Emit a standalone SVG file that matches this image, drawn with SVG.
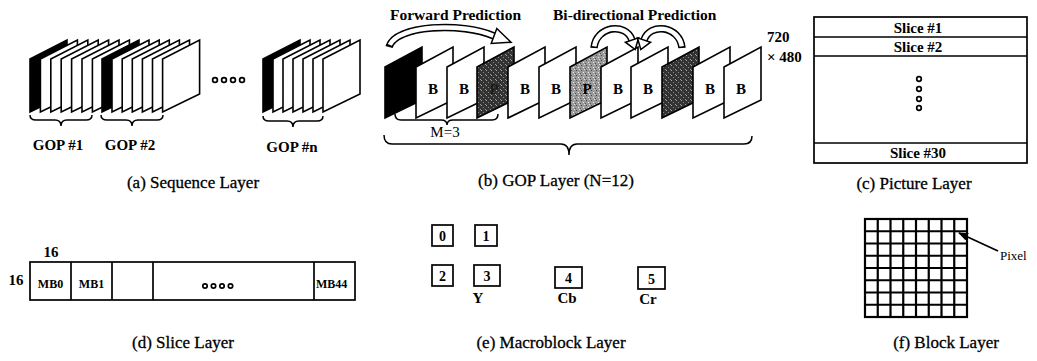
<svg xmlns="http://www.w3.org/2000/svg" width="1037" height="361" viewBox="0 0 1037 361">
<style>
.fr{fill:#fff;stroke:#000;stroke-width:1.6;stroke-linejoin:miter}
.frk{fill:#000;stroke:#000;stroke-width:1.6}
.ln{fill:none;stroke:#000;stroke-width:1.7}
.br{fill:none;stroke:#000;stroke-width:1.5}
.t{font-family:"Liberation Serif",serif;fill:#000}
.b{font-weight:bold}
.cap{font-family:"Liberation Serif",serif;font-size:17px;fill:#000;stroke:#000;stroke-width:0.3}
.dot{fill:#fff;stroke:#000;stroke-width:1.7}
.arO{fill:none;stroke:#000;stroke-width:7.5;stroke-linecap:butt}
.arI{fill:none;stroke:#fff;stroke-width:4.5;stroke-linecap:butt}
.ah{fill:#fff;stroke:#000;stroke-width:1.5;stroke-linejoin:miter}
</style>
<defs>
<pattern id="stD" width="5" height="5" patternUnits="userSpaceOnUse">
<rect width="5" height="5" fill="#333"/>
<rect x="1" y="0" width="1" height="1" fill="#aaa"/>
<rect x="3" y="2" width="1" height="1" fill="#888"/>
<rect x="0" y="4" width="1" height="1" fill="#999"/>
</pattern>
<pattern id="stL" width="5" height="5" patternUnits="userSpaceOnUse">
<rect width="5" height="5" fill="#9a9a9a"/>
<rect x="1" y="0" width="1" height="1" fill="#444"/>
<rect x="3" y="2" width="1" height="1" fill="#eee"/>
<rect x="0" y="3" width="1" height="1" fill="#555"/>
<rect x="4" y="4" width="1" height="1" fill="#ddd"/>
</pattern>
<marker id="ptr" markerWidth="10" markerHeight="8" refX="9" refY="4" orient="auto" markerUnits="userSpaceOnUse">
<path d="M0,0 L10,4 L0,8 Z" fill="#000"/>
</marker>
</defs>

<g id="sequence-layer">
<g id="gop1">
<path class="frk" d="M30,59 L67,40 L67,94 L30,112 Z"/>
<path class="fr" d="M40.4,59 L77.4,40 L77.4,94 L40.4,112 Z"/>
<path class="fr" d="M50.8,59 L87.8,40 L87.8,94 L50.8,112 Z"/>
<path class="fr" d="M61.2,59 L98.2,40 L98.2,94 L61.2,112 Z"/>
<path class="fr" d="M71.6,59 L108.6,40 L108.6,94 L71.6,112 Z"/>
<path class="fr" d="M82,59 L119,40 L119,94 L82,112 Z"/>
<path class="fr" d="M92.4,59 L129.4,40 L129.4,94 L92.4,112 Z"/>
</g>
<g id="gop2">
<path class="frk" d="M102,59 L139,40 L139,94 L102,112 Z"/>
<path class="fr" d="M112,59 L149,40 L149,94 L112,112 Z"/>
<path class="fr" d="M122.2,59 L159.2,40 L159.2,94 L122.2,112 Z"/>
<path class="fr" d="M132.3,59 L169.3,40 L169.3,94 L132.3,112 Z"/>
<path class="fr" d="M142.4,59 L179.4,40 L179.4,94 L142.4,112 Z"/>
<path class="fr" d="M152.5,59 L189.5,40 L189.5,94 L152.5,112 Z"/>
<path class="fr" d="M162.6,59 L199.6,40 L199.6,94 L162.6,112 Z"/>
</g>
<g id="seq-dots">
<circle class="dot" cx="215" cy="80" r="2.4"/>
<circle class="dot" cx="224" cy="80" r="2.4"/>
<circle class="dot" cx="233" cy="80" r="2.4"/>
<circle class="dot" cx="242" cy="80" r="2.4"/>
</g>
<g id="gopn">
<path class="frk" d="M263,59 L300,40 L300,94 L263,112 Z"/>
<path class="fr" d="M273,59 L310,40 L310,94 L273,112 Z"/>
<path class="fr" d="M283,59 L320,40 L320,94 L283,112 Z"/>
<path class="fr" d="M293,59 L330,40 L330,94 L293,112 Z"/>
<path class="fr" d="M303,59 L340,40 L340,94 L303,112 Z"/>
<path class="fr" d="M313,59 L350,40 L350,94 L313,112 Z"/>
<path class="fr" d="M323,59 L360,40 L360,94 L323,112 Z"/>
</g>
<path class="br" d="M30,115 Q30,120 36,120 L55,120 Q61,120 61,126 Q61,120 67,120 L86,120 Q92,120 92,115"/>
<path class="br" d="M101,115 Q101,120 107,120 L126,120 Q132,120 132,126 Q132,120 138,120 L157,120 Q163,120 163,115"/>
<path class="br" d="M263,116 Q263,121 269,121 L287,121 Q293,121 293,127 Q293,121 299,121 L317,121 Q323,121 323,116"/>
<text class="t b" x="58" y="150" font-size="15" text-anchor="middle">GOP #1</text>
<text class="t b" x="130" y="150" font-size="15" text-anchor="middle">GOP #2</text>
<text class="t b" x="292" y="152" font-size="15" text-anchor="middle">GOP #n</text>
<text class="cap" x="193" y="188" text-anchor="middle">(a) Sequence Layer</text>
</g>

<g id="gop-layer">
<path class="frk" d="M385,67 L422,47 L422,100 L385,118 Z"/>
<path class="fr" d="M416,67 L453,47 L453,100 L416,118 Z"/>
<text class="t b" x="433" y="94" font-size="15" text-anchor="middle">B</text>
<path class="fr" d="M447,67 L484,47 L484,100 L447,118 Z"/>
<text class="t b" x="464" y="94" font-size="15" text-anchor="middle">B</text>
<path class="fr" d="M477,67 L514,47 L514,100 L477,118 Z" style="fill:url(#stD)"/>
<text class="t b" x="494" y="94" font-size="15" text-anchor="middle" style="fill:#1a1a1a">P</text>
<path class="fr" d="M508,67 L545,47 L545,100 L508,118 Z"/>
<text class="t b" x="525" y="94" font-size="15" text-anchor="middle">B</text>
<path class="fr" d="M539,67 L576,47 L576,100 L539,118 Z"/>
<text class="t b" x="556" y="94" font-size="15" text-anchor="middle">B</text>
<path class="fr" d="M570,67 L607,47 L607,100 L570,118 Z" style="fill:url(#stL)"/>
<text class="t b" x="587" y="94" font-size="15" text-anchor="middle">P</text>
<path class="fr" d="M601,67 L638,47 L638,100 L601,118 Z"/>
<text class="t b" x="618" y="94" font-size="15" text-anchor="middle">B</text>
<path class="fr" d="M631,67 L668,47 L668,100 L631,118 Z"/>
<text class="t b" x="648" y="94" font-size="15" text-anchor="middle">B</text>
<path class="fr" d="M662,67 L699,47 L699,100 L662,118 Z" style="fill:url(#stD)"/>
<path class="fr" d="M693,67 L730,47 L730,100 L693,118 Z"/>
<text class="t b" x="710" y="94" font-size="15" text-anchor="middle">B</text>
<path class="fr" d="M724,67 L761,47 L761,100 L724,118 Z"/>
<text class="t b" x="741" y="94" font-size="15" text-anchor="middle">B</text>
<path class="br" d="M395,114 Q395,120 401,120 L441,120 Q447,120 447,125 Q447,120 453,120 L492,120 Q498,120 498,114"/>
<text class="t" x="445" y="137" font-size="15" text-anchor="middle">M=3</text>
<path class="br" d="M384,135 Q384,144 392,144 L561,144 Q569,144 569,155 Q569,144 577,144 L744,144 Q752,144 752,136"/>
<text class="t b" x="390" y="20" font-size="15.5">Forward Prediction</text>
<text class="t b" x="553" y="20" font-size="15.5">Bi-directional Prediction</text>
<text class="t b" x="767" y="42" font-size="15">720</text>
<text class="t b" x="767" y="62" font-size="15">× 480</text>
<text class="cap" x="556" y="186" text-anchor="middle">(b) GOP Layer (N=12)</text>
</g>

<g id="prediction-arrows">
<path class="arO" d="M389,47 C395,25 462,22 494,36"/>
<path class="arI" d="M389,47 C395,25 462,22 494,36" pathLength="100" stroke-dasharray="0 2 98"/>
<path class="ah" d="M496.8,28.5 L511,42.3 L491.2,43.5 Z"/>
<path class="arO" d="M594,48 C596,26 626,22 632,40"/>
<path class="arI" d="M594,48 C596,26 626,22 632,40" pathLength="100" stroke-dasharray="0 3 97"/>
<path class="ah" d="M638.6,37.8 L635.2,49.5 L625.4,42.2 Z"/>
<path class="arO" d="M682,48 C680,26 650,22 644,40"/>
<path class="arI" d="M682,48 C680,26 650,22 644,40" pathLength="100" stroke-dasharray="0 3 97"/>
<path class="ah" d="M637.4,37.8 L640.8,49.5 L650.6,42.2 Z"/>
</g>

<g id="picture-layer">
<rect class="ln" x="814" y="17" width="213" height="146"/>
<line class="ln" x1="814" y1="37" x2="1027" y2="37"/>
<line class="ln" x1="814" y1="56" x2="1027" y2="56"/>
<line class="ln" x1="814" y1="143" x2="1027" y2="143"/>
<text class="t b" x="918" y="33" font-size="15" text-anchor="middle">Slice #1</text>
<text class="t b" x="918" y="52" font-size="15" text-anchor="middle">Slice #2</text>
<text class="t b" x="918" y="158" font-size="15" text-anchor="middle">Slice #30</text>
<circle class="dot" cx="919" cy="79" r="2.3"/>
<circle class="dot" cx="919" cy="89" r="2.3"/>
<circle class="dot" cx="919" cy="99" r="2.3"/>
<circle class="dot" cx="919" cy="108" r="2.3"/>
<text class="cap" x="914" y="189" text-anchor="middle">(c) Picture Layer</text>
</g>

<g id="slice-layer">
<rect class="ln" x="30" y="262" width="325" height="38"/>
<line class="ln" x1="71" y1="262" x2="71" y2="300"/>
<line class="ln" x1="112" y1="262" x2="112" y2="300"/>
<line class="ln" x1="153" y1="262" x2="153" y2="300"/>
<line class="ln" x1="314" y1="262" x2="314" y2="300"/>
<text class="t b" x="50.5" y="288" font-size="12" text-anchor="middle">MB0</text>
<text class="t b" x="91.5" y="288" font-size="12" text-anchor="middle">MB1</text>
<text class="t b" x="316" y="288" font-size="12">MB44</text>
<circle class="dot" cx="205" cy="286" r="2.2"/>
<circle class="dot" cx="213.5" cy="286" r="2.2"/>
<circle class="dot" cx="222" cy="286" r="2.2"/>
<circle class="dot" cx="230.5" cy="286" r="2.2"/>
<text class="t b" x="51" y="257" font-size="15" text-anchor="middle">16</text>
<text class="t b" x="16" y="285" font-size="15" text-anchor="middle">16</text>
<text class="cap" x="183" y="348" text-anchor="middle">(d) Slice Layer</text>
</g>

<g id="macroblock-layer">
<rect class="ln" x="432" y="225" width="21" height="21"/>
<rect class="ln" x="475" y="225" width="22" height="21"/>
<rect class="ln" x="432" y="265" width="21" height="21"/>
<rect class="ln" x="474" y="265" width="26" height="21"/>
<rect class="ln" x="555" y="267" width="27" height="21"/>
<rect class="ln" x="638" y="267" width="27" height="22"/>
<text class="t b" x="442.5" y="241" font-size="14" text-anchor="middle">0</text>
<text class="t b" x="486" y="241" font-size="14" text-anchor="middle">1</text>
<text class="t b" x="442.5" y="281" font-size="14" text-anchor="middle">2</text>
<text class="t b" x="487" y="281" font-size="14" text-anchor="middle">3</text>
<text class="t b" x="568.5" y="283" font-size="14" text-anchor="middle">4</text>
<text class="t b" x="651.5" y="284" font-size="14" text-anchor="middle">5</text>
<text class="t b" x="478" y="303" font-size="15" text-anchor="middle">Y</text>
<text class="t b" x="567" y="303" font-size="15" text-anchor="middle">Cb</text>
<text class="t b" x="648" y="304" font-size="15" text-anchor="middle">Cr</text>
<text class="cap" x="551" y="348" text-anchor="middle">(e) Macroblock Layer</text>
</g>

<g id="block-layer">
<g stroke="#000" stroke-width="2.2" fill="none">
<rect x="865" y="219" width="102" height="98"/>
<path d="M877.75,219V317M890.5,219V317M903.25,219V317M916,219V317M928.75,219V317M941.5,219V317M954.25,219V317"/>
<path d="M865,231.25H967M865,243.5H967M865,255.75H967M865,268H967M865,280.25H967M865,292.5H967M865,304.75H967"/>
</g>
<line x1="998" y1="251" x2="959" y2="233" stroke="#000" stroke-width="1.8" marker-end="url(#ptr)"/>
<text class="t" x="1000" y="260" font-size="13">Pixel</text>
<text class="cap" x="946" y="348" text-anchor="middle">(f) Block Layer</text>
</g>
</svg>
